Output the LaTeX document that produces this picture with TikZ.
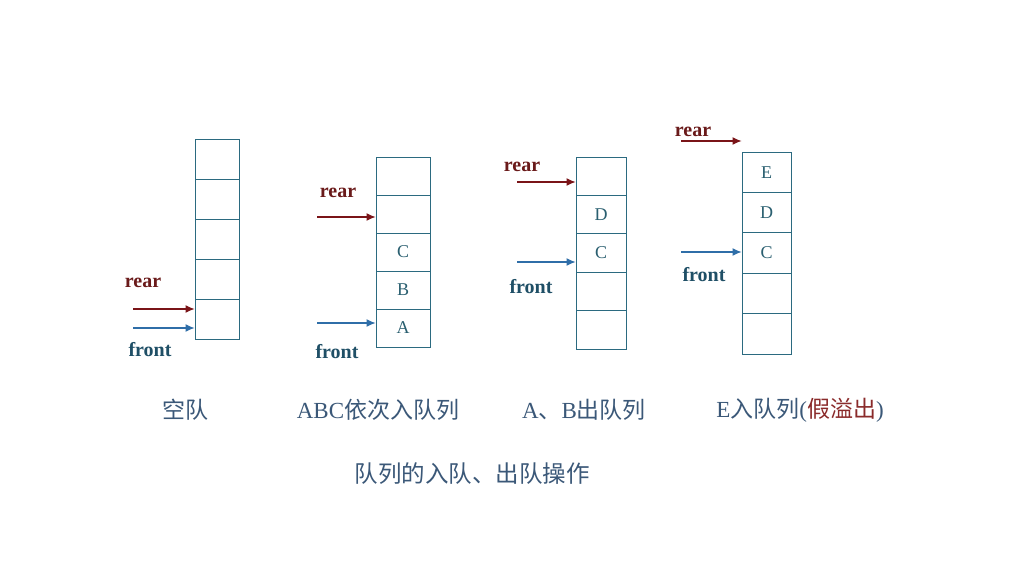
\documentclass[tikz,border=0pt]{standalone}
\usepackage{fontspec}
\setmainfont{Liberation Serif}
\newfontfamily\cjk{Noto Sans CJK SC}
\usetikzlibrary{arrows.meta}
\definecolor{boxc}{HTML}{2B6A80}
\definecolor{letc}{HTML}{2A5F70}
\definecolor{rearc}{HTML}{7A1418}
\definecolor{rearl}{HTML}{6A1A1A}
\definecolor{frontc}{HTML}{2F6EA8}
\definecolor{frontl}{HTML}{1F4F66}
\definecolor{capc}{HTML}{3B5878}
\definecolor{redc}{HTML}{8A2A2A}
\tikzset{
  cell/.style={draw=boxc, line width=0.9pt, inner sep=0pt, text=letc,
    font=\fontsize{18}{20}\selectfont},
  reararr/.style={draw=rearc, line width=1.2pt, -{Latex[length=9pt,width=8pt]}},
  frontarr/.style={draw=frontc, line width=1.2pt, -{Latex[length=9pt,width=8pt]}},
  rearlab/.style={text=rearl, font=\fontsize{20}{22}\selectfont\bfseries, inner sep=0pt},
  frontlab/.style={text=frontl, font=\fontsize{20}{22}\selectfont\bfseries, inner sep=0pt},
  captext/.style={text=capc, font=\fontsize{23}{26}\selectfont, inner sep=0pt}
}
\begin{document}
\begin{tikzpicture}[x=1pt,y=-1pt]
\useasboundingbox[fill=white] (0,0) rectangle (1030,577);
% queue 1
\foreach \i in {1,...,5}
  \node[cell, minimum width=44pt, minimum height=40pt] (qa\i) at (217,{119+40*\i}) {};
\coordinate (ra) at (133,309);
\coordinate (fa) at (133,328);
\draw[reararr] (ra) -- (qa5.west |- ra);
\draw[frontarr] (fa) -- (qa5.west |- fa);
\node[rearlab] (rla) at (143,283) {rear};
\node[frontlab] (fla) at (150,350) {front};
% queue 2
\foreach \i/\t in {1/{},2/{},3/C,4/B,5/A}
  \node[cell, minimum width=54pt, minimum height=38pt] (qb\i) at (403,{138+38*\i}) {\t};
\coordinate (rb) at (317,217);
\coordinate (fb) at (317,323);
\draw[reararr] (rb) -- (qb2.west |- rb);
\draw[frontarr] (fb) -- (qb5.west |- fb);
\node[rearlab] (rlb) at (338,193) {rear};
\node[frontlab] (flb) at (337,352) {front};
% queue 3
\foreach \i/\t in {1/{},2/D,3/C,4/{},5/{}}
  \node[cell, minimum width=50pt, minimum height=38.4pt] (qc\i) at (601,{137.8+38.4*\i}) {\t};
\coordinate (rc) at (517,182);
\coordinate (fc) at (517,262);
\draw[reararr] (rc) -- (qc1.west |- rc);
\draw[frontarr] (fc) -- (qc3.west |- fc);
\node[rearlab] (rlc) at (522,167) {rear};
\node[frontlab] (flc) at (531,287) {front};
% queue 4
\foreach \i/\t in {1/E,2/D,3/C,4/{},5/{}}
  \node[cell, minimum width=49pt, minimum height=40.4pt] (qd\i) at (766.5,{131.8+40.4*\i}) {\t};
\coordinate (rd) at (681,141);
\coordinate (fd) at (681,252);
\draw[reararr] (rd) -- (qd1.west |- rd);
\draw[frontarr] (fd) -- (qd3.west |- fd);
\node[rearlab] (rld) at (693,132) {rear};
\node[frontlab] (fld) at (704,275) {front};
% captions
\node[captext] (c1) at (185,410) {\cjk 空队};
\node[captext] (c2) at (378,410) {ABC{\cjk 依次入队列}};
\node[captext] (c3) at (584,410) {A{\cjk 、}B{\cjk 出队列}};
\node[captext] (c4) at (800,410) {E{\cjk 入队列}({\color{redc}\cjk 假溢出})};
\node[captext, font=\fontsize{23.5}{26}\selectfont] (title) at (472,474) {\cjk 队列的入队、出队操作};
\end{tikzpicture}
\end{document}
